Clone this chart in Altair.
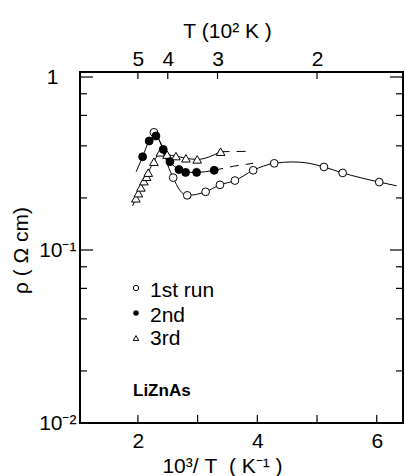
import altair as alt
import pandas as pd

# ---------------- data ----------------
run1_x = [2.268, 2.591, 2.826, 3.134, 3.374, 3.625, 3.931, 4.283, 5.116, 5.429, 6.042]
run1_y = [0.479, 0.262, 0.207, 0.217, 0.238, 0.252, 0.289, 0.317, 0.302, 0.279, 0.247]

run2_x = [2.079, 2.189, 2.302, 2.424, 2.536, 2.687, 2.799, 2.983, 3.278]
run2_y = [0.346, 0.427, 0.456, 0.382, 0.324, 0.292, 0.281, 0.281, 0.289]

run3_x = [1.966, 2.008, 2.050, 2.100, 2.146, 2.173, 2.268, 2.377, 2.489, 2.637, 2.804, 2.993, 3.385]
run3_y = [0.199, 0.213, 0.230, 0.250, 0.265, 0.280, 0.324, 0.367, 0.356, 0.349, 0.339, 0.334, 0.370]

# drawn guide curves
curve1_x = [2.268, 2.42, 2.50, 2.591, 2.70, 2.826, 3.134, 3.374, 3.625, 3.931, 4.283, 4.60, 4.85, 5.116, 5.429, 6.042, 6.333]
curve1_y = [0.479, 0.385, 0.31, 0.262, 0.222, 0.207, 0.217, 0.238, 0.252, 0.289, 0.317, 0.323, 0.318, 0.302, 0.279, 0.247, 0.235]
curve2_x = [1.97, 2.079, 2.189, 2.302, 2.424, 2.536, 2.687, 2.799, 2.983, 3.278]
curve2_y = [0.283, 0.346, 0.427, 0.456, 0.382, 0.324, 0.292, 0.281, 0.281, 0.289]
dash2_x = [3.278, 3.60, 3.93]
dash2_y = [0.289, 0.305, 0.317]
curve3_x = [1.911, 1.966, 2.008, 2.050, 2.100, 2.146, 2.173, 2.268, 2.377, 2.489, 2.637, 2.804, 2.993, 3.385]
curve3_y = [0.180, 0.199, 0.213, 0.230, 0.250, 0.265, 0.280, 0.324, 0.367, 0.356, 0.349, 0.339, 0.334, 0.370]
dash3_x = [3.385, 3.88]
dash3_y = [0.370, 0.372]

# axis ticks
x_label_ticks = [2, 4, 6]
x_minor_ticks = [2, 3, 4, 5, 6]
top_ticks = [2.0, 2.5, 10 / 3, 5.0]          # 10^3/T for T = 500, 400, 300, 200 K
y_major_ticks = [0.01, 0.1, 1.0]
y_minor_ticks = [0.02, 0.04, 0.06, 0.08, 0.2, 0.4, 0.6, 0.8]

legend_labels = ["1st run", "2nd", "3rd"]
sample_label = "LiZnAs"

# ---------------- layout ----------------
W, H = 323, 351
FONT = "Liberation Sans"

xs = alt.Scale(domain=[1.03, 6.44], nice=False, zero=False)
ys = alt.Scale(type="log", domain=[0.01, 1.069], nice=False)


def df(x, y):
    return pd.DataFrame({"x": x, "y": y})


def X(axis=None):
    return alt.X("x:Q", scale=xs, axis=axis)


def Y(axis=None):
    return alt.Y("y:Q", scale=ys, axis=axis)


bottom_axis = alt.Axis(
    orient="bottom", values=x_label_ticks, format="d", ticks=False, tickSize=0,
    domain=False, grid=False, labelFont=FONT, labelFontSize=21, labelColor="black",
    labelPadding=7, title="10³/\u00a0T\u00a0\u00a0(\u00a0K⁻¹\u00a0)", titleFont=FONT,
    titleFontSize=21, titleFontWeight="normal", titleColor="black", titleX=142, titleY=49,
    titleAlign="center", titleBaseline="alphabetic",
)
left_axis = alt.Axis(
    orient="left", values=y_major_ticks, ticks=False, tickSize=0, domain=False, grid=False,
    labelExpr="datum.value >= 0.5 ? '1' : (datum.value >= 0.05 ? '10⁻¹' : '10⁻²')",
    labelFont=FONT, labelFontSize=21, labelColor="black",
    labelPadding={"condition": {"test": "datum.value >= 0.5", "value": 22}, "value": 4},
    labelBaseline="middle",
    title="ρ\u00a0(\u00a0Ω\u00a0cm)", titleFont=FONT, titleFontSize=21, titleFontWeight="normal",
    titleColor="black", titleX=-59, titleY=178, titleAngle=-90, titleAlign="center",
    titleBaseline="middle",
)
top_axis = alt.Axis(
    orient="top", values=top_ticks, ticks=False, tickSize=0, domain=False, grid=False,
    labelExpr="format(round(10 / datum.value), 'd')", labelFont=FONT, labelFontSize=21,
    labelColor="black", labelPadding=3, title="T\u00a0(10²\u00a0K\u00a0)", titleFont=FONT,
    titleFontSize=21, titleFontWeight="normal", titleColor="black", titleX=147, titleY=-35,
    titleAlign="center", titleBaseline="alphabetic",
)

line_style = dict(color="black", strokeWidth=1, interpolate="monotone")

c1 = alt.Chart(df(curve1_x, curve1_y)).mark_line(**line_style).encode(
    x=X(bottom_axis), y=Y(left_axis))
c2 = alt.Chart(df(curve2_x, curve2_y)).mark_line(**line_style).encode(x=X(), y=Y())
c3 = alt.Chart(df(curve3_x, curve3_y)).mark_line(**line_style).encode(x=X(), y=Y())
d2 = alt.Chart(df(dash2_x, dash2_y)).mark_line(
    color="black", strokeWidth=1, strokeDash=[9, 7]).encode(x=X(), y=Y())
d3 = alt.Chart(df(dash3_x, dash3_y)).mark_line(
    color="black", strokeWidth=1, strokeDash=[9, 7]).encode(x=X(), y=Y())

p3 = alt.Chart(df(run3_x, run3_y)).mark_point(
    shape="triangle-up", size=75, filled=True, fill="white", stroke="black", strokeWidth=1,
    opacity=1).encode(x=X(), y=Y())
p1 = alt.Chart(df(run1_x, run1_y)).mark_point(
    shape="circle", size=60, filled=True, fill="white", stroke="black", strokeWidth=1,
    opacity=1).encode(x=X(), y=Y())
p2 = alt.Chart(df(run2_x, run2_y)).mark_point(
    shape="circle", size=62, filled=True, fill="black", stroke="black", strokeWidth=1,
    opacity=1).encode(x=X(), y=Y())

# inward ticks
tick_style = dict(color="black", strokeWidth=1.2)
ydf_min = pd.DataFrame({"y": y_minor_ticks})
ydf_maj = pd.DataFrame({"y": y_major_ticks})
l_min = alt.Chart(ydf_min).mark_rule(**tick_style).encode(
    y=Y(), x=alt.value(0), x2=alt.value(7))
l_maj = alt.Chart(ydf_maj).mark_rule(**tick_style).encode(
    y=Y(), x=alt.value(0), x2=alt.value(13))
r_min = alt.Chart(ydf_min).mark_rule(**tick_style).encode(
    y=Y(), x=alt.value(W - 7), x2=alt.value(W))
r_maj = alt.Chart(ydf_maj).mark_rule(**tick_style).encode(
    y=Y(), x=alt.value(W - 13), x2=alt.value(W))
b_ticks = alt.Chart(pd.DataFrame({"x": x_minor_ticks})).mark_rule(**tick_style).encode(
    x=X(), y=alt.value(H - 8), y2=alt.value(H))
t_ticks = alt.Chart(pd.DataFrame({"x": top_ticks})).mark_rule(**tick_style).encode(
    x=X(top_axis), y=alt.value(0), y2=alt.value(7))

# legend
leg_sym_y = [216, 241, 266]
leg_txt_y = [225, 250, 273]
leg_one = pd.DataFrame({"k": [0]})
sym_open = alt.Chart(leg_one).mark_point(
    shape="circle", size=28, filled=True, fill="white", stroke="black", strokeWidth=1,
    opacity=1).encode(x=alt.value(56), y=alt.value(leg_sym_y[0]))
sym_fill = alt.Chart(leg_one).mark_point(
    shape="circle", size=30, filled=True, fill="black", opacity=1).encode(
    x=alt.value(56), y=alt.value(leg_sym_y[1]))
sym_tri = alt.Chart(leg_one).mark_point(
    shape="triangle-up", size=32, filled=True, fill="white", stroke="black", strokeWidth=1,
    opacity=1).encode(x=alt.value(56), y=alt.value(leg_sym_y[2]))

texts = []
for lab, yy in zip(legend_labels, leg_txt_y):
    texts.append(alt.Chart(pd.DataFrame({"t": [lab]})).mark_text(
        font=FONT, fontSize=21, color="black", align="left", baseline="alphabetic").encode(
        text="t:N", x=alt.value(70), y=alt.value(yy)))
sample = alt.Chart(pd.DataFrame({"t": [sample_label]})).mark_text(
    font=FONT, fontSize=17, fontWeight="bold", color="black", align="left",
    baseline="alphabetic").encode(text="t:N", x=alt.value(53), y=alt.value(324))

chart = alt.layer(
    c1, c2, c3, d2, d3, p3, p1, p2,
    l_min, l_maj, r_min, r_maj, b_ticks, t_ticks,
    sym_open, sym_fill, sym_tri, *texts, sample,
).resolve_axis(x="independent", y="independent").properties(
    width=W, height=H,
    autosize=alt.AutoSizeParams(type="none"),
    padding={"left": 80, "top": 72, "right": 2, "bottom": 53},
    background="white",
).configure_view(stroke="black", strokeWidth=2)

chart.save("out.html", embed_options={"renderer": "svg", "actions": False})
